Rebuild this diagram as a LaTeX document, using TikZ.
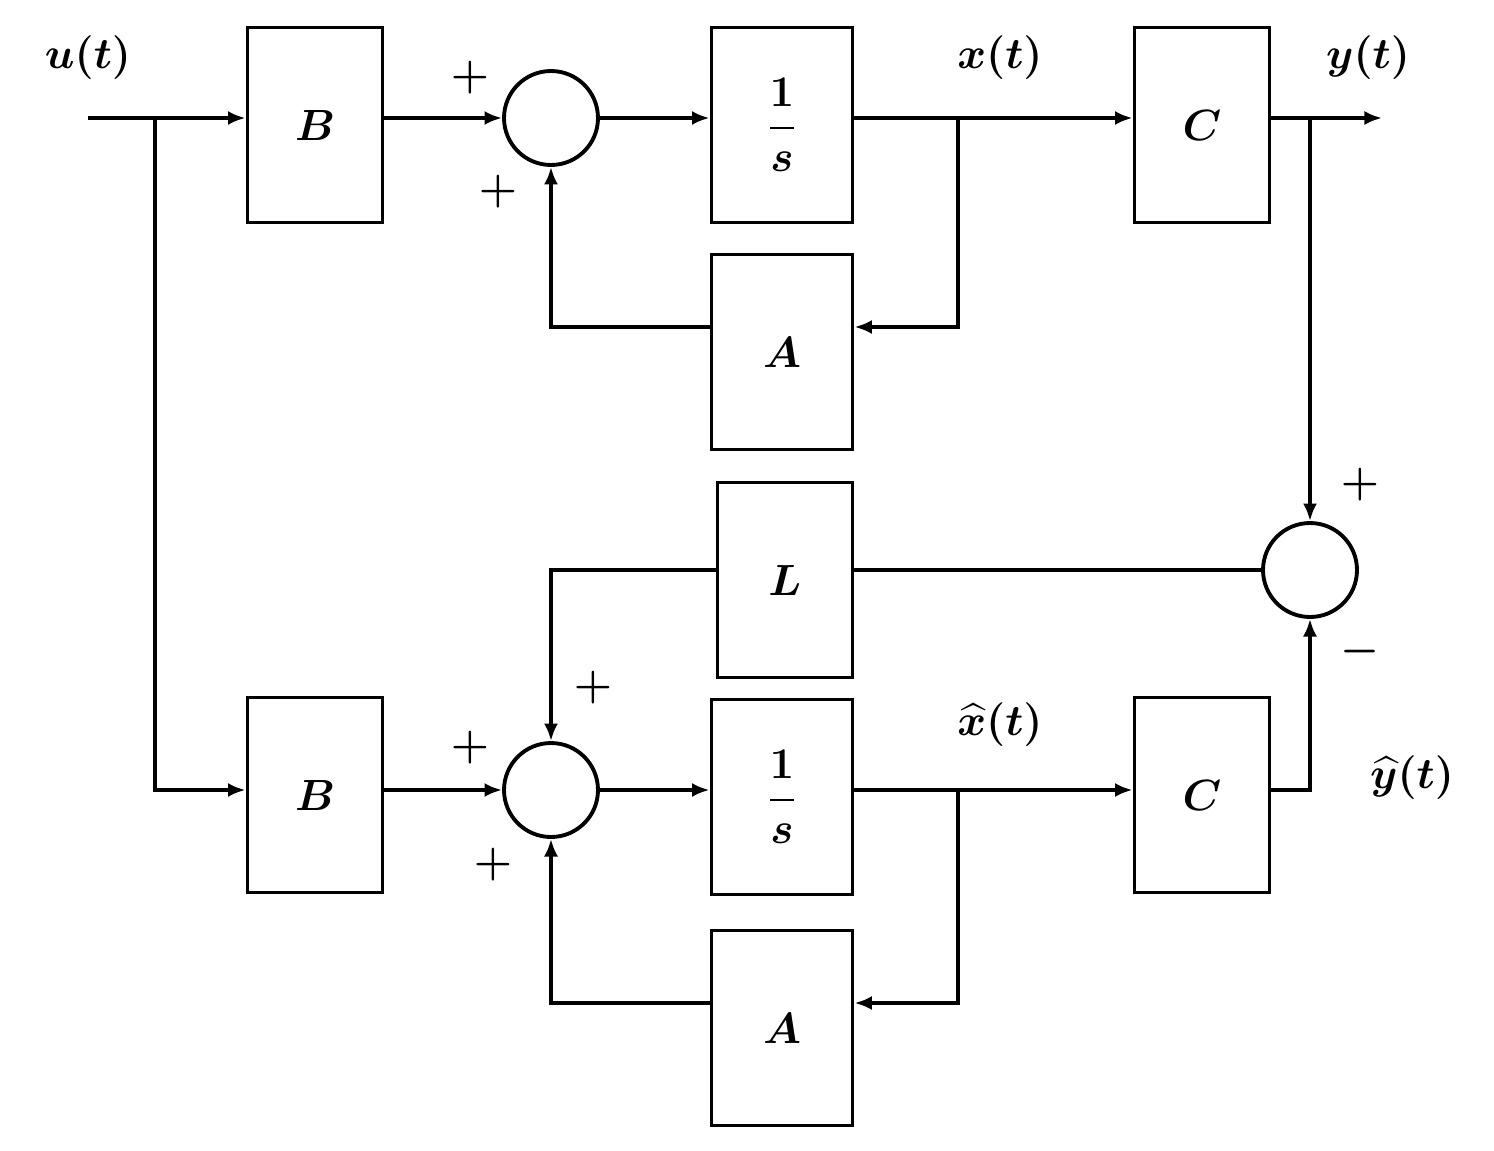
\documentclass[tikz,border=0pt]{standalone}
\usepackage{amsmath,bm}
\usetikzlibrary{arrows.meta}
\tikzset{
  blk/.style={draw, line width=2.2pt, minimum width=2.7cm, minimum height=3.9cm, inner sep=0pt, font=\fontsize{50}{56}\selectfont},
  sum/.style={draw, circle, line width=2.2pt, minimum size=1.88cm, inner sep=0pt},
  lbl/.style={font=\fontsize{50}{56}\selectfont},
  sgn/.style={font=\fontsize{40}{44}\selectfont\bfseries},
  wire/.style={line width=2.2pt},
  sig/.style={wire, -{Latex[length=10pt,width=8pt]}}
}
\begin{document}
\begin{tikzpicture}[x=0.02cm,y=-0.02cm]
\useasboundingbox (0,0) rectangle (1494,1150);

% plant
\node[blk] (B1) at (315,125) {$\bm{B}$};
\node[sum] (S1) at (551,118) {};
\node[blk, minimum width=2.82cm, font=\fontsize{40}{44}\selectfont] (I1) at (782,125) {$\boldsymbol{\dfrac{1}{s}}$};
\node[blk] (C1) at (1202,125) {$\bm{C}$};
\node[blk, minimum width=2.82cm] (A1) at (782,352) {$\bm{A}$};

% observer
\node[blk, minimum width=2.7cm] (L) at (785,580) {$\bm{L}$};
\node[sum] (S3) at (1310,570) {};
\node[blk] (B2) at (315,795) {$\bm{B}$};
\node[sum] (S2) at (551,790) {};
\node[blk, minimum width=2.82cm, font=\fontsize{40}{44}\selectfont] (I2) at (782,797) {$\boldsymbol{\dfrac{1}{s}}$};
\node[blk] (C2) at (1202,795) {$\bm{C}$};
\node[blk, minimum width=2.82cm] (A2) at (782,1028) {$\bm{A}$};

\coordinate (u0) at (88,118);
\coordinate (ub) at (155,118);
\coordinate (yend) at (1382,118);
\node[lbl] (lu) at (88,58) {$\bm{u(t)}$};
\node[lbl] (lx) at (1000,58) {$\bm{x(t)}$};
\node[lbl] (ly) at (1368,58) {$\bm{y(t)}$};
\node[lbl] (lxh) at (1000,725) {$\bm{\widehat{x}(t)}$};
\node[lbl] (lyh) at (1412,778) {$\bm{\widehat{y}(t)}$};

% signs
\node[sgn] at (470,78) {$\bm{+}$};
\node[sgn] at (498,192) {$\bm{+}$};
\node[sgn] at (470,748) {$\bm{+}$};
\node[sgn] at (493,865) {$\bm{+}$};
\node[sgn] at (593,688) {$\bm{+}$};
\node[sgn] at (1360,485) {$\bm{+}$};
\node[sgn] at (1360,652) {$\bm{-}$};

% top loop
\draw[wire] (u0) -- (ub);
\draw[sig] (ub) -- (B1.west |- ub);
\draw[sig] (B1.east |- S1) -- (S1);
\draw[sig] (S1) -- (I1.west |- S1);
\draw[sig] (I1.east |- S1) -- (C1.west |- S1);
\draw[sig] (C1.east |- S1) -- (yend);
\draw[sig] (958,118) |- (A1.east |- 0,327);
\draw[sig] (A1.west |- 0,327) -| (S1.south);
\draw[sig] (1310,118) -- (S3.north);

% bottom loop
\draw[sig] (ub) |- (B2.west |- S2);
\draw[sig] (B2.east |- S2) -- (S2);
\draw[sig] (S2) -- (I2.west |- S2);
\draw[sig] (I2.east |- S2) -- (C2.west |- S2);
\draw[sig] (958,790) |- (A2.east |- 0,1003);
\draw[sig] (A2.west |- 0,1003) -| (S2.south);
\draw[sig] (C2.east |- S2) -| (S3.south);
\draw[wire] (S3.west) -- (L.east |- S3);
\draw[sig] (L.west |- S3) -| (S2.north);
\end{tikzpicture}
\end{document}
